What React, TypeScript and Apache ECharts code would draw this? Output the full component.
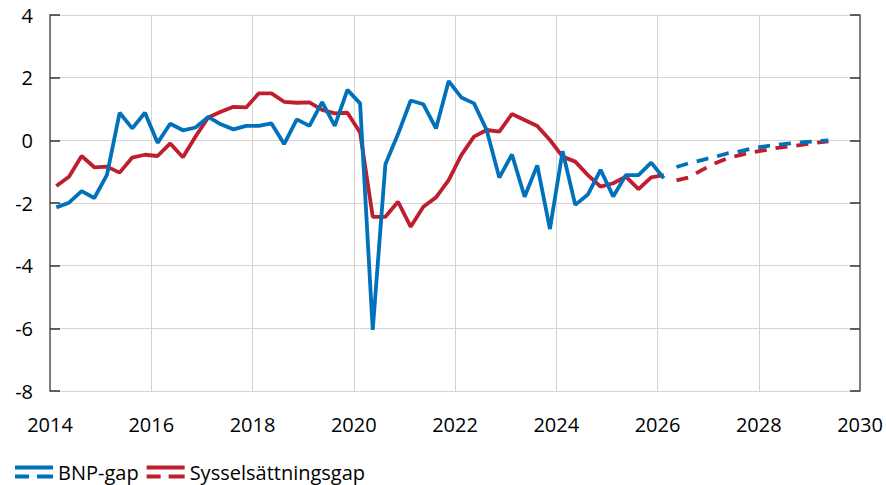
import React, { useEffect, useRef } from "react";
import * as echarts from "echarts";

// Quarterly data, first quarter 2014Q1
const startYear = 2014;
const bnpHist = [
  -2.14, -1.99, -1.62, -1.84,
  -1.1, 0.88, 0.38, 0.88,
  -0.08, 0.53, 0.32, 0.41,
  0.75, 0.51, 0.35, 0.46,
  0.46, 0.54, -0.12, 0.67,
  0.46, 1.22, 0.46, 1.61,
  1.18, -6.05, -0.76, 0.2,
  1.27, 1.15, 0.38, 1.89,
  1.37, 1.18, 0.33, -1.19,
  -0.45, -1.8, -0.8, -2.83,
  -0.35, -2.06, -1.73, -0.94,
  -1.79, -1.11, -1.11, -0.71,
  -1.21,
];
const empHist = [
  -1.46, -1.16, -0.5, -0.86,
  -0.84, -1.03, -0.55, -0.46,
  -0.5, -0.1, -0.54, 0.12,
  0.73, 0.91, 1.07, 1.05,
  1.5, 1.5, 1.23, 1.2,
  1.21, 0.97, 0.86, 0.88,
  0.25, -2.44, -2.44, -1.96,
  -2.76, -2.12, -1.82, -1.27,
  -0.47, 0.12, 0.33, 0.28,
  0.84, 0.65, 0.46, 0.01,
  -0.52, -0.68, -1.11, -1.48,
  -1.37, -1.16, -1.56, -1.18,
  -1.11,
];
// Forecast, starting 2026Q2
const forecastStartIndex = 49;
const bnpForecast = [-0.85, -0.73, -0.63, -0.53, -0.42, -0.35, -0.26, -0.19, -0.14, -0.1, -0.06, -0.03, 0.0];
const empForecast = [-1.28, -1.18, -0.95, -0.74, -0.58, -0.47, -0.38, -0.31, -0.24, -0.19, -0.14, -0.08, -0.03];

const xTicks = [2014, 2016, 2018, 2020, 2022, 2024, 2026, 2028, 2030];
const yTicks = [-8, -6, -4, -2, 0, 2, 4];

const BLUE = "#0071BA";
const RED = "#BE1E2D";
const FONT = "'Open Sans', sans-serif";

const toPairs = (vals: number[], offset: number) =>
  vals.map((v, i) => [startYear + (offset + i + 0.5) / 4, v]);

export default function App() {
  const ref = useRef<HTMLDivElement>(null);
  useEffect(() => {
    if (!ref.current) return;
    const chart = echarts.init(ref.current, null, { renderer: "svg" });
    const lineBase = { type: "line", showSymbol: false, symbol: "none", smooth: false };
    const legendIcon = "path://M0,0H38V4H0Z M0,9H14V13H0Z M22,9H38V13H22Z";
    const LW = 3.8;
    chart.setOption({
      animation: false,
      textStyle: { fontFamily: FONT },
      grid: { left: 50, right: 26, top: 15, bottom: 94, containLabel: false },
      legend: {
        data: [
          { name: "BNP-gap", icon: legendIcon },
          { name: "Sysselsättningsgap", icon: legendIcon },
        ],
        left: 10,
        top: 457,
        itemWidth: 38,
        itemHeight: 13,
        itemGap: 8,
        textStyle: { fontFamily: FONT, fontSize: 20, color: "#000" },
      },
      xAxis: {
        type: "value",
        min: xTicks[0],
        max: xTicks[xTicks.length - 1],
        interval: 2,
        axisLine: { show: false },
        axisTick: { show: false },
        splitLine: { show: true, lineStyle: { color: "#d4d4d4", width: 1 } },
        axisLabel: {
          fontFamily: FONT,
          fontSize: 20,
          color: "#000",
          margin: 23,
          formatter: (v: number) => String(v),
        },
      },
      yAxis: [
        {
          type: "value",
          min: yTicks[0],
          max: yTicks[yTicks.length - 1],
          interval: 2,
          position: "left",
          axisLine: { show: true, lineStyle: { color: "#595959", width: 1.5 } },
          axisTick: { show: true, inside: true, length: 10, lineStyle: { color: "#333", width: 1.5 } },
          splitLine: { show: true, lineStyle: { color: "#d4d4d4", width: 1 } },
          axisLabel: { fontFamily: FONT, fontSize: 20, color: "#000", margin: 17 },
        },
        {
          type: "value",
          min: yTicks[0],
          max: yTicks[yTicks.length - 1],
          interval: 2,
          position: "right",
          axisLine: { show: true, lineStyle: { color: "#595959", width: 1.5 } },
          axisTick: { show: true, inside: true, length: 10, lineStyle: { color: "#333", width: 1.5 } },
          splitLine: { show: false },
          axisLabel: { show: false },
        },
      ],
      series: [
        {
          ...lineBase,
          name: "Sysselsättningsgap",
          data: toPairs(empHist, 0),
          color: RED,
          lineStyle: { color: RED, width: LW },
          z: 2,
        },
        {
          ...lineBase,
          name: "Sysselsättningsgap prognos",
          data: toPairs(empForecast, forecastStartIndex),
          color: RED,
          lineStyle: { color: RED, width: LW, type: [12, 9] },
          z: 2,
        },
        {
          ...lineBase,
          name: "BNP-gap",
          data: toPairs(bnpHist, 0),
          color: BLUE,
          lineStyle: { color: BLUE, width: LW },
          z: 3,
        },
        {
          ...lineBase,
          name: "BNP-gap prognos",
          data: toPairs(bnpForecast, forecastStartIndex),
          color: BLUE,
          lineStyle: { color: BLUE, width: LW, type: [12, 9] },
          z: 3,
        },
      ],
    });
    return () => chart.dispose();
  }, []);
  return <div ref={ref} style={{ width: 886, height: 485, position: "absolute", left: 0, top: 0 }} />;
}
